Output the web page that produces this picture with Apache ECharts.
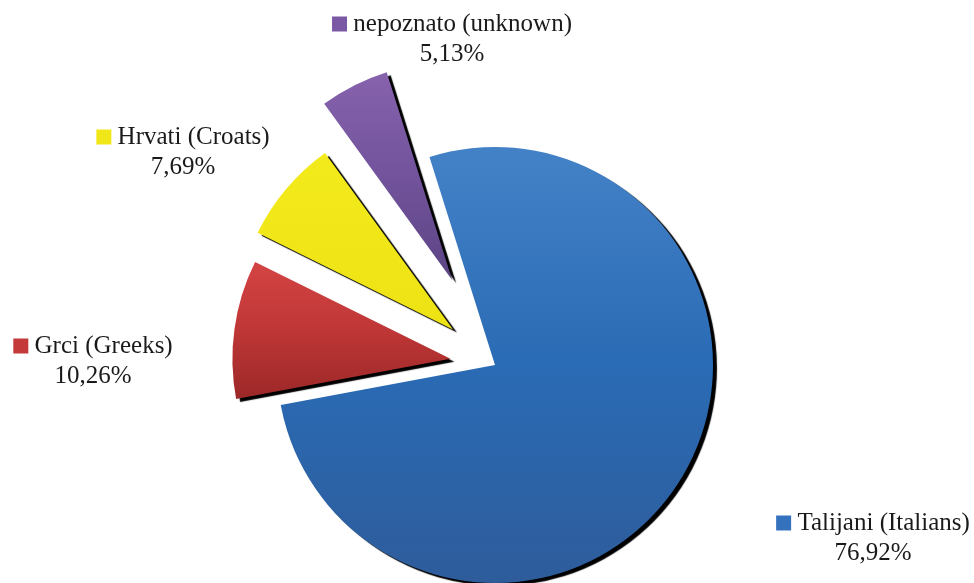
<!DOCTYPE html>
<html>
<head>
<meta charset="utf-8">
<script src="https://cdn.jsdelivr.net/npm/echarts@6/dist/echarts.min.js"></script>
<style>
html,body{margin:0;padding:0;background:#fff;}
#c{width:974px;height:583px;}
</style>
</head>
<body>
<div id="c"></div>
<script>
// ---- data ----
const names = ['Talijani (Italians)', 'Grci (Greeks)', 'Hrvati (Croats)', 'nepoznato (unknown)'];
const values = [76.92, 10.26, 7.69, 5.13];
const pctLabels = ['76,92%', '10,26%', '7,69%', '5,13%'];

// ---- styles ----
const gradients = [
  ['#4482c7', '#2a6bb5', '#2e5c9b'],
  ['#d44444', '#bf3636', '#9c2828'],
  ['#f3ea1c', '#f1e718', '#ede214'],
  ['#8762ad', '#72539c', '#5c4483']
];
const keyColors = ['#3572bd', '#c43a3a', '#f1e718', '#7a58a3'];
const explode = [0, 45, 55, 95];
const labelPos = [[873, 538], [93, 361], [183, 152], [452, 39]];
const CX = 495, CY = 365, R = 218, START = 107.5;
const FS = 25, LH = 30;

function grad(c) {
  return new echarts.graphic.LinearGradient(0, 0, 0, 1, [
    {offset: 0, color: c[0]}, {offset: 0.5, color: c[1]}, {offset: 1, color: c[2]}
  ]);
}

// offset direction of each exploded slice, derived from the values
const total = values.reduce((a, b) => a + b, 0);
let acc = 0;
const centers = values.map((v, i) => {
  const mid = acc + v / 2;
  acc += v;
  const ang = (START - mid / total * 360) * Math.PI / 180; // ccw from 3 o'clock
  return [CX + explode[i] * Math.cos(ang), CY - explode[i] * Math.sin(ang)];
});

const series = names.map((nm, i) => ({
  type: 'pie',
  center: centers[i],
  radius: [0, R],
  startAngle: START,
  clockwise: true,
  animation: false,
  avoidLabelOverlap: false,
  emphasis: {disabled: true},
  silent: true,
  labelLine: {show: false},
  labelLayout: function () {
    return {x: labelPos[i][0], y: labelPos[i][1], align: 'center', verticalAlign: 'middle'};
  },
  data: values.map((v, j) => ({
    name: names[j],
    value: v,
    itemStyle: j === i ? {
      color: grad(gradients[j]),
      shadowColor: 'rgba(0,0,0,1)',
      shadowBlur: 1,
      shadowOffsetX: 4,
      shadowOffsetY: 3,
      borderWidth: 0
    } : {color: 'rgba(0,0,0,0)', borderWidth: 0},
    label: {
      show: j === i,
      position: 'outside',
      formatter: '{sq|}{n| ' + names[j] + '}\n{v|' + pctLabels[j] + '}',
      fontFamily: 'Liberation Serif',
      fontSize: FS,
      color: '#1a1a1a',
      lineHeight: LH,
      rich: {
        sq: {width: 15, height: 15, backgroundColor: keyColors[j]},
        n: {fontFamily: 'Liberation Serif', fontSize: FS, color: '#1a1a1a', lineHeight: LH},
        v: {fontFamily: 'Liberation Serif', fontSize: FS, color: '#1a1a1a', lineHeight: LH}
      }
    }
  }))
}));

const chart = echarts.init(document.getElementById('c'), null, {renderer: 'canvas'});
chart.setOption({
  backgroundColor: '#ffffff',
  series: series
});
</script>
</body>
</html>
